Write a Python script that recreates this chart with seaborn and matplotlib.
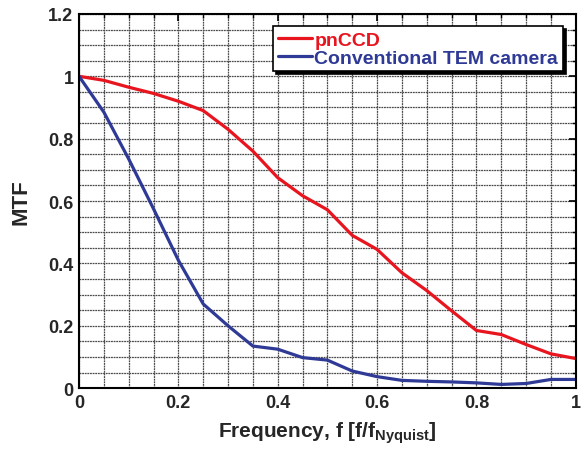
import matplotlib
matplotlib.use("Agg")
import matplotlib.pyplot as plt
from matplotlib.ticker import MultipleLocator, FuncFormatter
import seaborn as sns
import pandas as pd

# Spatial frequency (fraction of Nyquist)
freq = [0.0, 0.05, 0.10, 0.15, 0.20, 0.25, 0.30, 0.35, 0.40, 0.45, 0.50,
        0.55, 0.60, 0.65, 0.70, 0.75, 0.80, 0.85, 0.90, 0.95, 1.0]

# Modulation transfer function of each detector
mtf_pnccd = [1.0, 0.987, 0.965, 0.945, 0.92, 0.89, 0.83, 0.76, 0.675, 0.617, 0.572,
             0.49, 0.445, 0.37, 0.313, 0.248, 0.185, 0.172, 0.14, 0.11, 0.095]
mtf_tem = [1.0, 0.885, 0.735, 0.575, 0.41, 0.27, 0.2, 0.135, 0.125, 0.098, 0.09,
           0.055, 0.037, 0.025, 0.022, 0.02, 0.017, 0.012, 0.015, 0.028, 0.028]

series_names = ["pnCCD", "Conventional TEM camera"]
series_colors = ["#e8141e", "#2e3a96"]

df = pd.DataFrame({
    "f": freq * 2,
    "MTF": mtf_pnccd + mtf_tem,
    "detector": [series_names[0]] * len(freq) + [series_names[1]] * len(freq),
})

sns.set_style("white")
plt.rcParams["font.family"] = ["Liberation Sans", "DejaVu Sans"]
plt.rcParams["font.weight"] = "bold"
plt.rcParams["mathtext.fontset"] = "custom"
plt.rcParams["mathtext.bf"] = "Liberation Sans:bold"

fig = plt.figure(figsize=(5.81, 4.52), dpi=100)
ax = fig.add_axes([0.136, 0.139, 0.855, 0.828])

sns.lineplot(data=df, x="f", y="MTF", hue="detector", palette=series_colors,
             hue_order=series_names, linewidth=2.3, ax=ax, sort=False)

ax.set_xlim(0, 1)
ax.set_ylim(0, 1.2)
ax.xaxis.set_major_locator(MultipleLocator(0.2))
ax.yaxis.set_major_locator(MultipleLocator(0.2))
ax.xaxis.set_minor_locator(MultipleLocator(0.05))
ax.yaxis.set_minor_locator(MultipleLocator(0.05))
fmt = FuncFormatter(lambda v, p: f"{v:g}")
ax.xaxis.set_major_formatter(fmt)
ax.yaxis.set_major_formatter(fmt)

ax.grid(True, which="both", color="#4a4a4a", linewidth=0.9, linestyle=(0, (1.5, 0.6)))
ax.set_axisbelow(True)

for s in ax.spines.values():
    s.set_color("black")
    s.set_linewidth(1.5)

ax.tick_params(which="both", direction="in", top=True, right=True, color="black")
ax.tick_params(which="major", length=5, width=1.2, labelsize=13, pad=4)
ax.tick_params(which="minor", length=3, width=1.0)
for lbl in ax.get_xticklabels() + ax.get_yticklabels():
    lbl.set_fontweight("bold")

ax.set_xlabel(r"Frequency, f [f/f$_{\mathbf{Nyquist}}$]", fontsize=15, fontweight="bold", labelpad=6)
ax.set_ylabel("MTF", fontsize=16, fontweight="bold", labelpad=12)

leg = ax.legend(loc="upper right", bbox_to_anchor=(0.982, 0.978), frameon=True,
                fancybox=False, shadow={"color": "black", "alpha": 1.0},
                edgecolor="black", framealpha=1,
                prop={"size": 14, "weight": "bold"}, handlelength=1.75,
                handletextpad=0.1, borderpad=0.25, labelspacing=0.02,
                borderaxespad=0.2)
leg.get_frame().set_linewidth(1.2)
for txt, c in zip(leg.get_texts(), series_colors):
    txt.set_color(c)

fig.savefig("out.png", dpi=100)
